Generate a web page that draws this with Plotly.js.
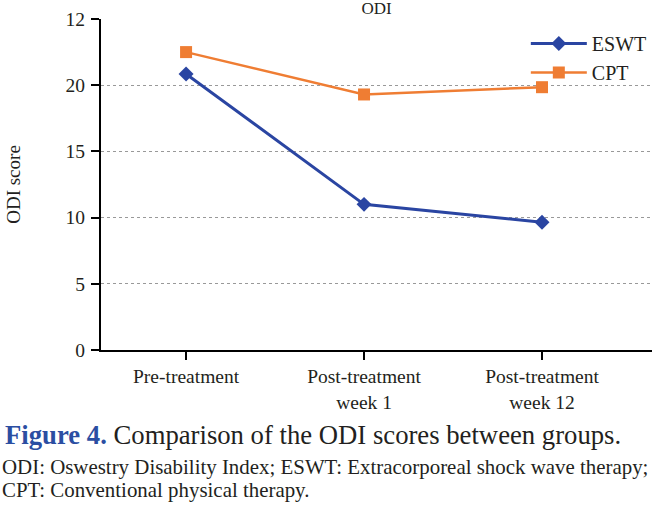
<!DOCTYPE html>
<html>
<head>
<meta charset="utf-8">
<script src="https://cdn.plot.ly/plotly-3.0.1.min.js"></script>
<style>
  html, body { margin: 0; padding: 0; background: #fff; }
  #chart { width: 652px; height: 506px; }
</style>
</head>
<body>
<div id="chart"></div>
<script>
// time points and group means
const timepoints = ['Pre-treatment', 'Post-treatment<br>week 1', 'Post-treatment<br>week 12'];
const eswtScores = [20.85, 11.0, 9.65];
const cptScores = [22.5, 19.3, 19.85];
// y ticks as printed (top label is printed "12" in the original)
const yTickVals = [0, 5, 10, 15, 20, 25];
const yTickText = ['0', '5', '10', '15', '20', '12'];

const serif = 'Liberation Serif, Times New Roman, serif';
const ink = '#231f20';

const eswt = {
    type: 'scatter',
    mode: 'lines+markers',
    name: 'ESWT',
    x: timepoints,
    y: eswtScores,
    line: {color: '#2a45a2', width: 3},
    marker: {symbol: 'diamond', size: 11.5, color: '#2a45a2'}
};

const cpt = {
    type: 'scatter',
    mode: 'lines+markers',
    name: 'CPT',
    x: timepoints,
    y: cptScores,
    line: {color: '#ef7d33', width: 2.5},
    marker: {symbol: 'square', size: 12, color: '#ef7d33'}
};

const layout = {
    width: 652,
    height: 506,
    margin: {l: 101, r: 0, t: 19, b: 156},
    paper_bgcolor: '#fff',
    plot_bgcolor: '#fff',
    font: {family: serif, color: ink, size: 19},
    showlegend: true,
    title: {
        text: 'ODI',
        font: {family: serif, size: 17, color: ink},
        x: 0.5, xref: 'paper',
        y: 0.985, yref: 'container', yanchor: 'middle'
    },
    xaxis: {
        type: 'category',
        range: [-0.478, 2.618],
        showline: true, linecolor: '#000', linewidth: 2,
        ticks: 'outside', ticklen: 8, tickwidth: 2, tickcolor: '#000',
        showgrid: false, zeroline: false,
        tickfont: {family: serif, size: 19.5, color: ink}
    },
    yaxis: {
        range: [0, 25],
        tickvals: yTickVals,
        ticktext: yTickText,
        showline: true, linecolor: '#000', linewidth: 2,
        ticks: 'outside', ticklen: 8, tickwidth: 2, tickcolor: '#000',
        ticklabelstandoff: 2,
        showgrid: true, gridcolor: '#999', griddash: 'dot', gridwidth: 1,
        zeroline: false,
        tickfont: {family: serif, size: 19.5, color: ink},
        title: {text: 'ODI score', font: {family: serif, size: 19, color: ink}, standoff: 40}
    },
    legend: {
        x: 0.771, xanchor: 'left',
        y: 0.985, yanchor: 'top',
        bgcolor: 'rgba(0,0,0,0)',
        font: {family: serif, size: 20, color: ink},
        itemwidth: 56,
        tracegroupgap: 0
    },
    annotations: [
        {
            xref: 'paper', yref: 'paper',
            x: -0.178, y: -0.257,
            xanchor: 'left', yanchor: 'middle',
            showarrow: false, align: 'left',
            text: '<b><span style="color:#2b4ea2">Figure 4.</span></b> Comparison of the ODI scores between groups.',
            font: {family: serif, size: 26.7, color: ink}
        },
        {
            xref: 'paper', yref: 'paper',
            x: -0.184, y: -0.353,
            xanchor: 'left', yanchor: 'middle',
            showarrow: false, align: 'left',
            text: 'ODI: Oswestry Disability Index; ESWT: Extracorporeal shock wave therapy;',
            font: {family: serif, size: 20.9, color: ink}
        },
        {
            xref: 'paper', yref: 'paper',
            x: -0.184, y: -0.423,
            xanchor: 'left', yanchor: 'middle',
            showarrow: false, align: 'left',
            text: 'CPT: Conventional physical therapy.',
            font: {family: serif, size: 20.9, color: ink}
        }
    ]
};

Plotly.newPlot('chart', [eswt, cpt], layout, {displayModeBar: false, staticPlot: true});
</script>
</body>
</html>
